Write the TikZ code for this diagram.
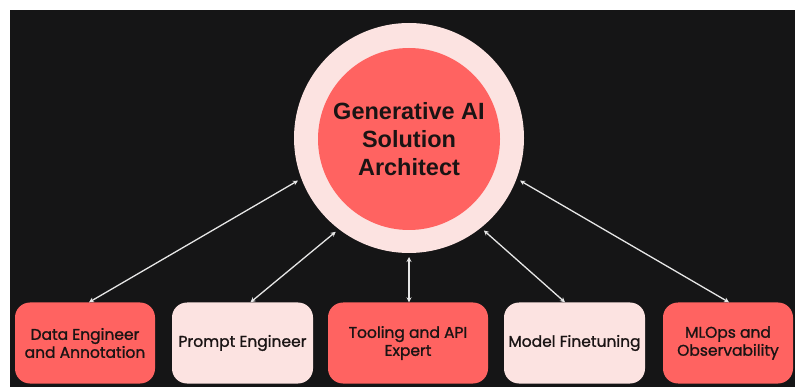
\documentclass[tikz,border=0pt]{standalone}
\usepackage{fontspec}
\setmainfont{Poppins}[FakeBold=1.2]
\newfontfamily\hubfont{Liberation Sans}
\usetikzlibrary{arrows.meta}
\definecolor{bgdark}{HTML}{151516}
\definecolor{redbox}{HTML}{FF6361}
\definecolor{pinkbox}{HTML}{FCE3E1}
\definecolor{txtdark}{HTML}{1A1414}
\definecolor{linkc}{HTML}{E6E6E6}
\tikzset{
  rolebox/.style={rounded corners=15pt, minimum height=81pt, inner sep=1pt,
    align=center, text=txtdark, font=\fontsize{15.5}{18}\selectfont},
  redrole/.style={rolebox, fill=redbox},
  pinkrole/.style={rolebox, fill=pinkbox},
  link/.style={draw=linkc, line width=1.3pt,
    {Stealth[length=5pt,width=5pt]}-{Stealth[length=5pt,width=5pt]}},
}
\begin{document}
\begin{tikzpicture}[x=1pt,y=-1pt]
\useasboundingbox (0,0) rectangle (795,387);
\fill[white] (0,0) rectangle (795,387);
\fill[bgdark] (10,10) rectangle (795,387);
% hub
\node[circle, fill=pinkbox, minimum size=230pt, inner sep=0pt, outer sep=4pt] (hub) at (409,138) {};
\node[circle, fill=redbox, minimum size=182pt, inner sep=0pt, align=center, text=txtdark,
  font=\hubfont\bfseries\fontsize{23.5}{28}\selectfont] (core) at (409,139)
  {Generative AI\\Solution\\Architect};
% role boxes
\node[redrole, minimum width=140pt] (b1) at (85,343) {Data Engineer\\and Annotation};
\node[pinkrole, minimum width=141pt] (b2) at (242.5,343) {Prompt Engineer};
\node[redrole, minimum width=160pt] (b3) at (408,343) {Tooling and API\\Expert};
\node[pinkrole, minimum width=141pt] (b4) at (574.5,343) {Model Finetuning};
\node[redrole, minimum width=130pt] (b5) at (728,343) {MLOps and\\Observability};
% links
\draw[link] (hub.201) -- ([xshift=4pt]b1.north);
\draw[link] (hub.232) -- ([xshift=8pt]b2.north);
\draw[link] (hub.270) -- ([xshift=1pt]b3.north);
\draw[link] (hub.309) -- ([xshift=-9.5pt]b4.north);
\draw[link] (hub.339) -- ([xshift=1pt]b5.north);
\end{tikzpicture}
\end{document}
